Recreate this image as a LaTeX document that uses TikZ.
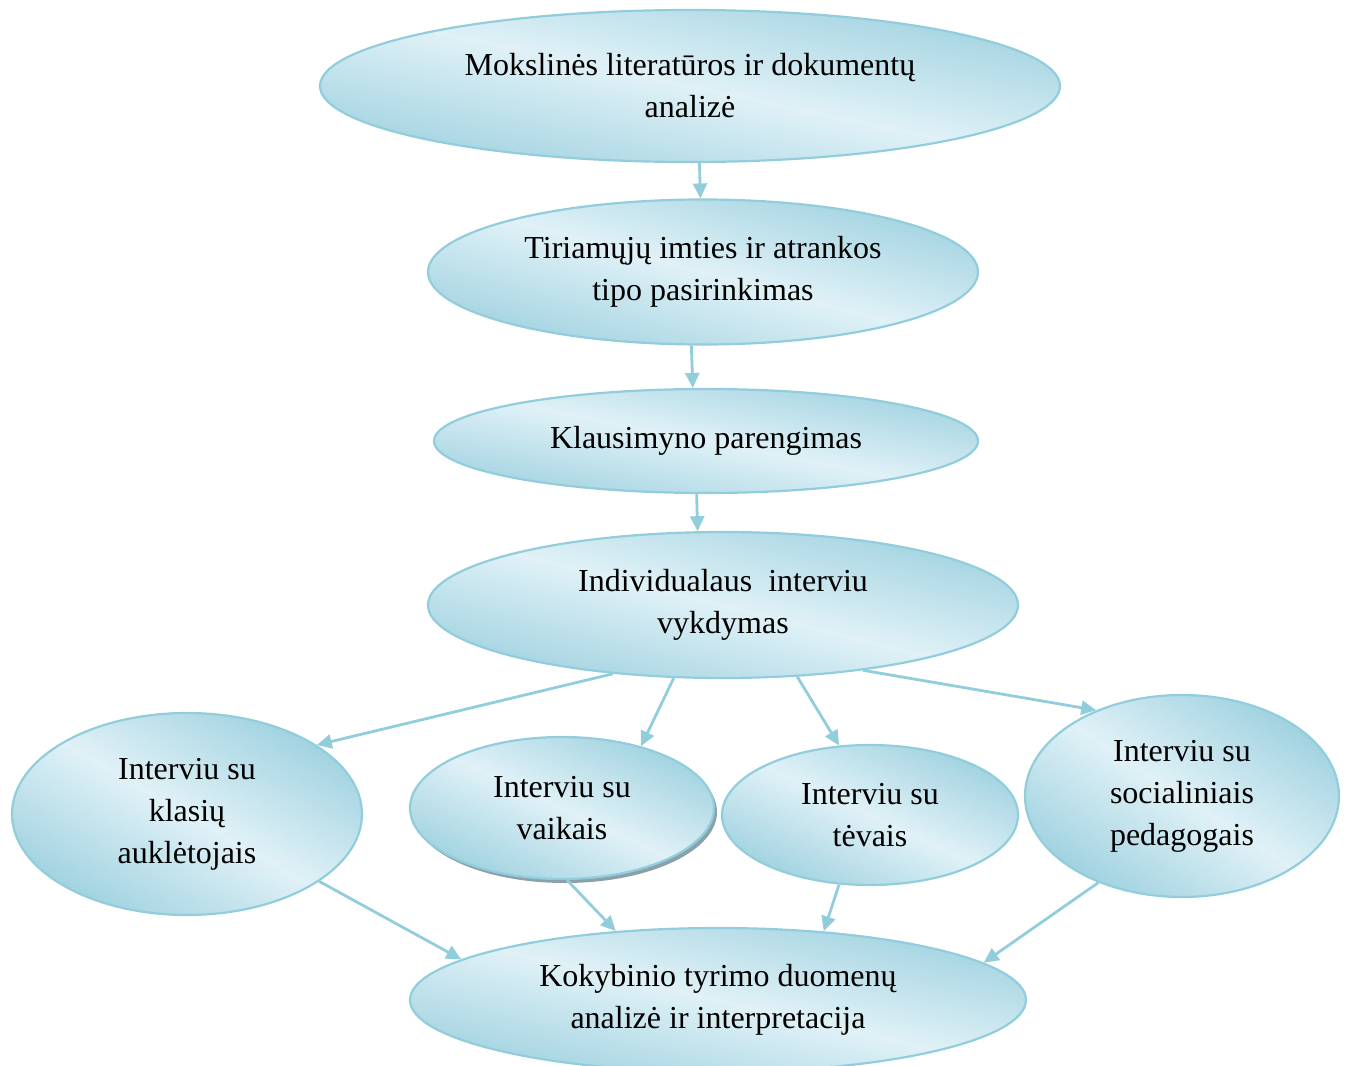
\documentclass[tikz,border=0pt]{standalone}
\usepackage{fontspec}
\setmainfont{Liberation Serif}
\usetikzlibrary{shapes.geometric,arrows.meta,shadows}
\definecolor{rim}{RGB}{146,205,220}
\definecolor{aqualight}{RGB}{224,241,247}
\definecolor{aquadark}{RGB}{160,210,224}
\definecolor{shadowgrey}{RGB}{138,160,170}
\tikzstyle{stage}=[ellipse, draw=rim, line width=1.1pt, top color=aquadark, bottom color=aquadark, middle color=aqualight, align=center, inner sep=0pt, font=\fontsize{16}{21}\selectfont]
\tikzstyle{link}=[draw=rim, line width=1.4pt, -{Triangle[length=7.5pt,width=7pt]}]
\tikzset{x=.5pt}
\tikzset{y=-.5pt}
\begin{document}
\begin{tikzpicture}
  \useasboundingbox (0,0) rectangle (1346,1066);
  \clip (0,0) rectangle (1346,1066);
  %% Stages, top to bottom
  \draw (690,86) node[stage,shading angle=-12,minimum width=370pt,minimum height=76pt] (lit) {Mokslinės literatūros ir dokumentų\\analizė};
  \draw (703,272) node[stage,shading angle=-15,minimum width=275pt,minimum height=72.5pt] (sample) {Tiriamųjų imties ir atrankos\\tipo pasirinkimas};
  \draw (706,441) node[stage,shading angle=-11,minimum width=272pt,minimum height=52pt] (quest) {Klausimyno parengimas};
  \draw (723,605) node[stage,shading angle=-14,minimum width=295pt,minimum height=73pt] (interview) {Individualaus~ interviu\\vykdymas};

  %% Interview groups
  \draw (187,814) node[stage,shading angle=-30,minimum width=175pt,minimum height=101pt] (teachers) {Interviu su\\klasių\\auklėtojais};
  \draw (562,808) node[stage,shading angle=-25,minimum width=152pt,minimum height=71pt,drop shadow={shadow xshift=1.5pt,shadow yshift=-2pt,fill=shadowgrey,opacity=1}] (children) {Interviu su\\vaikais};
  \draw (870,815) node[stage,shading angle=-25,minimum width=148pt,minimum height=70pt] (parents) {Interviu su\\tėvais};
  \draw (1182,796) node[stage,shading angle=-33,minimum width=157pt,minimum height=101pt] (socped) {Interviu su\\socialiniais\\pedagogais};

  \draw (718,1000) node[stage,shading angle=-13,minimum width=308pt,minimum height=72pt] (analysis) {Kokybinio tyrimo duomenų\\analizė ir interpretacija};

  %% Connectors
  \draw[link] (lit.277.5) -- (sample.92);
  \draw[link] (sample.261.4) -- (quest.104.8);
  \draw[link] (quest.260) -- (interview.109.4);

  \draw[link] (interview.212.9) -- (teachers.28.4);
  \draw[link] (interview.236.7) -- (children.38);
  \draw[link] (interview.316.6) -- (parents.114.3);
  \draw[link] (interview.335.4) -- (socped.135.7);

  \draw[link] (teachers.333.6) -- (analysis.171.2);
  \draw[link] (children.274) -- (analysis.146.3);
  \draw[link] (parents.246.2) -- (analysis.33.9);
  \draw[link] (socped.226.3) -- (analysis.8.7);
\end{tikzpicture}
\end{document}
